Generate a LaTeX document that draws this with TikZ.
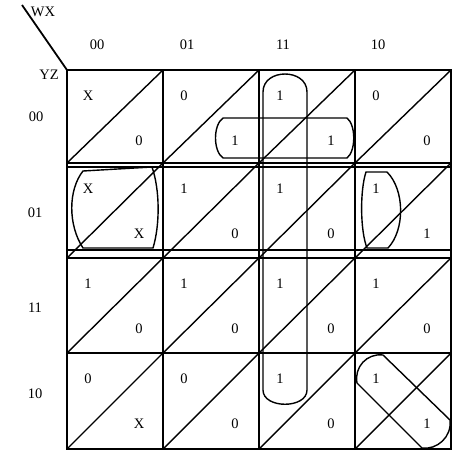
\documentclass[tikz,border=0pt]{standalone}
\usepackage{fontspec}
\setmainfont{Liberation Serif}
\begin{document}
\begin{tikzpicture}[x=1pt,y=-1pt,
  gridline/.style={line width=1.8pt},
  diag/.style={line width=1.4pt},
  grp/.style={line width=1.4pt},
  lbl/.style={inner sep=0pt, font=\fontsize{14.5}{16}\selectfont}]
\useasboundingbox (0,0) rectangle (465,460);
% header
\coordinate (corner) at (67,70);
\coordinate (tick) at (22,5);
\draw[gridline] (tick) -- (corner);
\node[lbl] (wx) at (43,12) {WX};
\node[lbl] (yz) at (49,75) {YZ};
\node[lbl] (c00) at (97,45) {00};
\node[lbl] (c01) at (187,45) {01};
\node[lbl] (c11) at (283,45) {11};
\node[lbl] (c10) at (378,45) {10};
\node[lbl] (r00) at (36,117) {00};
\node[lbl] (r01) at (35,213) {01};
\node[lbl] (r11) at (35,308) {11};
\node[lbl] (r10) at (35,394) {10};
% grid
\draw[gridline] (67,70) rectangle (451,449);
\foreach \x in {163,259,355} \draw[gridline] (\x,70) -- (\x,449);
\foreach \y in {163,258,353} \draw[gridline] (67,\y) -- (451,\y);
% diagonals
\foreach \xa/\xb in {67/163,163/259,259/355,355/451}
  \foreach \ya/\yb in {70/163,163/258,258/353,353/449}
    \draw[diag] (\xa,\yb) -- (\xb,\ya);
% values
\foreach \r/\y in {0/70,1/163,2/258,3/353}{
  \foreach \c/\x in {0/67,1/163,2/259,3/355}{
    \coordinate (u\r\c) at (\x+21,\y+26);
    \coordinate (l\r\c) at (\x+72,\y+71);
  }
}
\node[lbl] (vu00) at (u00) {X}; \node[lbl] (vl00) at (l00) {0};
\node[lbl] (vu01) at (u01) {0}; \node[lbl] (vl01) at (l01) {1};
\node[lbl] (vu02) at (u02) {1}; \node[lbl] (vl02) at (l02) {1};
\node[lbl] (vu03) at (u03) {0}; \node[lbl] (vl03) at (l03) {0};
\node[lbl] (vu10) at (u10) {X}; \node[lbl] (vl10) at (l10) {X};
\node[lbl] (vu11) at (u11) {1}; \node[lbl] (vl11) at (l11) {0};
\node[lbl] (vu12) at (u12) {1}; \node[lbl] (vl12) at (l12) {0};
\node[lbl] (vu13) at (u13) {1}; \node[lbl] (vl13) at (l13) {1};
\node[lbl] (vu20) at (u20) {1}; \node[lbl] (vl20) at (l20) {0};
\node[lbl] (vu21) at (u21) {1}; \node[lbl] (vl21) at (l21) {0};
\node[lbl] (vu22) at (u22) {1}; \node[lbl] (vl22) at (l22) {0};
\node[lbl] (vu23) at (u23) {1}; \node[lbl] (vl23) at (l23) {0};
\node[lbl] (vu30) at (u30) {0}; \node[lbl] (vl30) at (l30) {X};
\node[lbl] (vu31) at (u31) {0}; \node[lbl] (vl31) at (l31) {0};
\node[lbl] (vu32) at (u32) {1}; \node[lbl] (vl32) at (l32) {0};
\node[lbl] (vu33) at (u33) {1}; \node[lbl] (vl33) at (l33) {1};
% groups
% vertical loop, column 11
\draw[grp] (263,390) -- (263,92) .. controls (263,68) and (307,68) .. (307,92)
  -- (307,390) .. controls (307,409) and (263,409) .. (263,390) -- cycle;
% horizontal loop, row 00
\draw[grp] (223,118) -- (347,118) .. controls (356,125) and (356,151) .. (347,158)
  -- (223,158) .. controls (213,151) and (213,125) .. (223,118) -- cycle;
% row 01 band
\draw[grp] (67,167) rectangle (451,250);
% row 01, column 00 barrel
\draw[grp] (83,171) -- (152,167) .. controls (160,190) and (160,225) .. (153,248)
  -- (83,248) .. controls (68,225) and (68,190) .. (83,171) -- cycle;
% row 01, column 10 barrel
\draw[grp] (366,172) -- (387,172) .. controls (405,190) and (405,230) .. (388,248)
  -- (367,248) .. controls (360,230) and (360,190) .. (366,172) -- cycle;
% row 10, column 10 diagonal loop
\draw[grp] (383,355) -- (450,420) .. controls (452,437) and (437,450) .. (422,448)
  -- (357,383) .. controls (354,367) and (367,353) .. (383,355) -- cycle;
\end{tikzpicture}
\end{document}
